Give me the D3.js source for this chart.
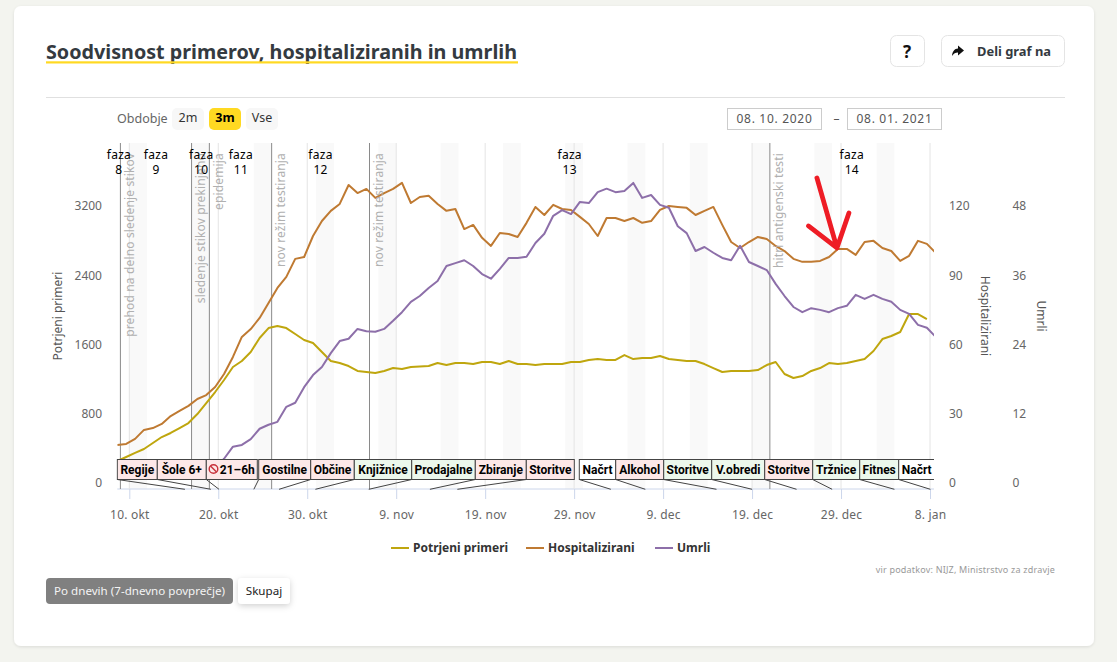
<!DOCTYPE html>
<html lang="sl">
<head>
<meta charset="utf-8">
<title>Soodvisnost primerov, hospitaliziranih in umrlih</title>
<script src="https://cdn.jsdelivr.net/npm/d3@7"></script>
<style>
html,body{margin:0;padding:0;background:#f3f4ef;overflow:hidden}
svg{display:block}
text{font-family:"Noto Sans",sans-serif}
</style>
</head>
<body>
<svg id="chart" width="1117" height="662"></svg>
<script>
// ---------- data ----------
const potrjeniPrimeri = [
254,300,347,393,462,531,578,635,693,797,
924,1051,1190,1340,1409,1513,1675,1790,1813,1790,
1721,1652,1617,1513,1409,1386,1351,1294,1282,1271,
1294,1328,1317,1340,1346,1351,1386,1363,1386,1386,
1374,1398,1398,1374,1409,1374,1374,1363,1374,1374,
1374,1398,1398,1421,1432,1421,1421,1478,1432,1444,
1444,1467,1432,1421,1409,1409,1374,1328,1282,1294,
1294,1294,1305,1363,1398,1259,1213,1236,1294,1328,
1386,1374,1386,1409,1432,1525,1663,1698,1744,1952,
1952,1894];
const hospitalizirani = [
16.5,16.9,19.1,23,23.8,25.6,29,31.2,33.4,36.4,
38.1,41.6,47.2,54.6,63.3,66.7,71.5,78,84.5,89.3,
97.1,97.9,107,113.5,117.9,120.9,129.1,125.6,127.4,123.5,
125.6,127.4,130,121.3,123.9,124.4,120.9,117.9,118.7,110,
111.8,106.2,102.7,108.3,107.9,106.6,112.7,119.6,116.1,120.5,
118.7,118.3,115.3,112.2,107,114.8,114.8,113.5,114.8,112.7,
113.5,118.3,120,119.6,119.2,116.1,117.9,119.6,111.8,104.4,
101.8,104.4,106.6,105.7,102.7,100.5,97.1,95.8,95.8,96.2,
97.9,101.4,101.4,98.8,104.4,104.9,101.8,100.5,96.2,98.4,
104.9,103.6,99.7];
const umrli = [
1,1,1,1,1,1.5,1.5,1.5,2,2,
2,2.5,4.2,6.3,6.6,7.6,9.4,10.1,10.6,13.2,
13.9,16.6,18.7,20.1,22.5,24.6,25,26.7,26.3,26.2,
26.7,28.1,29.6,31.4,32.4,33.8,35,37.6,38.1,38.6,
37.6,36.2,35.4,37.1,39,39,39.2,41.6,43.2,46.3,
47.3,46.6,48.7,48.5,50.4,51,50.4,50.6,52,49.4,
49.9,48.2,47.7,44.5,43.3,40.2,40.9,39.9,39,38.6,
41.1,38.3,37.6,36.9,34.5,32.4,30.5,29.6,30.3,30,
29.6,30.3,30.7,32.6,31.9,32.6,31.9,31.4,30,29.3,
27.4,26.9,25.3];
const seriesNames = ["Potrjeni primeri","Hospitalizirani","Umrli"];
const casesTicks = [0,800,1600,2400,3200];
const hospTicks = [0,30,60,90,120];
const deathTicks = [0,12,24,36,48];
const monthNames = ["jan","feb","mar","apr","maj","jun","jul","avg","sep","okt","nov","dec"];
const xTickDates = ["2020-10-10","2020-10-20","2020-10-30","2020-11-09","2020-11-19","2020-11-29","2020-12-09","2020-12-19","2020-12-29","2021-01-08"];
const weekendStarts = ["2020-10-10","2020-10-17","2020-10-24","2020-10-31","2020-11-07","2020-11-14","2020-11-21","2020-11-28","2020-12-05","2020-12-12","2020-12-19","2020-12-26","2021-01-02"];
const phaseNames = ["8","9","10","11","12","13","14"];
const phaseDates = ["2020-10-08T20:00","2020-10-13T00:00","2020-10-18T02:00","2020-10-22T13:00","2020-10-31T12:00","2020-11-28T12:00","2020-12-30T05:00"];
const eventDates = ["2020-10-09","2020-10-17","2020-10-19","2020-10-26","2020-11-06","2020-12-21"];
const eventLabels = ["prehod na delno sledenje stikov","sledenje stikov prekinjeno","epidemija","nov režim testiranja","nov režim testiranja","hitri antigenski testi"];
const flagNames = ["Regije","Šole 6+","21–6h","Gostilne","Občine","Knjižnice","Prodajalne","Zbiranje","Storitve","Načrt","Alkohol","Storitve","V.obredi","Storitve","Tržnice","Fitnes","Načrt"];
const flagKinds = ["red","red","red","red","red","green","green","red","red","none","red","green","green","red","green","green","none"];
const flagDates = ["2020-10-16T06:00","2020-10-19T04:00","2020-10-20T02:00","2020-10-24T00:00","2020-10-26T20:00","2020-10-30T22:00","2020-11-05T22:00","2020-11-12T19:00","2020-11-15T21:00","2020-12-03T03:00","2020-12-07T00:00","2020-12-15T00:00","2020-12-19T00:00","2020-12-24T00:00","2020-12-28T00:00","2021-01-04T00:00","2021-01-08T01:00"];

// ---------- layout & style ----------
const plot = {left:117.3,right:934,top:143,bottom:489};
const colors = ["#bfa60e","#bf7a32","#8d6fa9"];
const flagFill = {red:"#fde8e8",green:"#ecf8ec",none:"#ffffff"};
const flagWidths = [40,49,51,52,43.6,57.4,63.6,51,48,36.4,48,48,53,48,47,39,36];
const flagGaps =   [0,0,0,1.4,0,0,0,0,0,5,0,0,0,0,0,0,0];
const parse = s => new Date(s + (s.length>10 ? ":00Z" : "T00:00:00Z"));
const pointDate = i => new Date(Date.UTC(2020,9,8,15,36) + i*864e5);

const svg = d3.select("#chart");
const x = d3.scaleUtc().domain([parse("2020-10-10"),parse("2021-01-08")]).range([129.3,930]);
const yCases = d3.scaleLinear().domain([0,3200]).range([483,206]);
const yHosp = d3.scaleLinear().domain([0,120]).range([483,206]);
const yDeaths = d3.scaleLinear().domain([0,48]).range([483,206]);

// ---------- page furniture ----------
const defs = svg.append("defs");
const sh = defs.append("filter").attr("id","sh").attr("x","-30%").attr("y","-30%").attr("width","160%").attr("height","180%");
sh.append("feDropShadow").attr("dx",0).attr("dy",2).attr("stdDeviation",3).attr("flood-color","#000").attr("flood-opacity",.18);
const cs = defs.append("filter").attr("id","cs").attr("x","-2%").attr("y","-2%").attr("width","104%").attr("height","104%");
cs.append("feDropShadow").attr("dx",0).attr("dy",1).attr("stdDeviation",1.5).attr("flood-color","#000").attr("flood-opacity",.1);
defs.append("clipPath").attr("id","plotClip").append("rect")
  .attr("x",plot.left).attr("y",plot.top).attr("width",plot.right-plot.left).attr("height",plot.bottom-plot.top);

svg.append("rect").attr("x",14).attr("y",6).attr("width",1080).attr("height",640).attr("rx",7).attr("fill","#fff").attr("filter","url(#cs)");

svg.append("text").attr("x",46).attr("y",59).attr("font-size",20).attr("font-weight",700).attr("fill","#343a40")
  .attr("textLength",471).attr("lengthAdjust","spacingAndGlyphs").text("Soodvisnost primerov, hospitaliziranih in umrlih");
svg.append("rect").attr("x",46).attr("y",61.3).attr("width",472).attr("height",2.2).attr("fill","#ffd922");
svg.append("line").attr("x1",46).attr("x2",1065).attr("y1",97.5).attr("y2",97.5).attr("stroke","#e0e0e0");

// top-right buttons
svg.append("rect").attr("x",890.5).attr("y",35.5).attr("width",34).attr("height",31).attr("rx",6).attr("fill","#fff").attr("stroke","#e4e4e4");
svg.append("text").attr("x",907).attr("y",58).attr("text-anchor","middle").attr("font-size",17).attr("font-weight",700).attr("fill","#111").text("?");
svg.append("rect").attr("x",941.5).attr("y",35.5).attr("width",123).attr("height",31).attr("rx",6).attr("fill","#fff").attr("stroke","#e4e4e4");
svg.append("path").attr("d","M958 45.5 L964 50.5 L958 55.5 V52.5 C955.5 52.5 953.5 53.5 952 56 C952.3 51.5 954.5 48.7 958 48.5 Z").attr("fill","#111");
svg.append("text").attr("x",977).attr("y",56).attr("font-size",13).attr("font-weight",700).attr("fill","#343a40")
  .attr("textLength",74).attr("lengthAdjust","spacingAndGlyphs").text("Deli graf na");

// range selector
svg.append("text").attr("x",117).attr("y",123).attr("font-size",12.5).attr("fill","#666").text("Obdobje");
const ranges = [["2m",172],["3m",209],["Vse",246]];
ranges.forEach(([t,rx])=>{
  const on = t==="3m";
  svg.append("rect").attr("x",rx).attr("y",108).attr("width",32).attr("height",22).attr("rx",5).attr("fill",on?"#ffd922":"#f7f7f7");
  svg.append("text").attr("x",rx+16).attr("y",122).attr("text-anchor","middle").attr("font-size",12.5)
    .attr("font-weight",on?700:400).attr("fill",on?"#000":"#333").text(t);
});
[["08. 10. 2020",727.5],["08. 01. 2021",847.5]].forEach(([t,bx])=>{
  svg.append("rect").attr("x",bx).attr("y",108.5).attr("width",94).attr("height",21).attr("fill","#fff").attr("stroke","#ccc");
  svg.append("text").attr("x",bx+47).attr("y",123).attr("text-anchor","middle").attr("font-size",12).attr("letter-spacing",".7px").attr("fill","#555").text(t);
});
svg.append("text").attr("x",836.5).attr("y",123).attr("text-anchor","middle").attr("font-size",12).attr("fill","#555").text("–");

// ---------- weekend bands & grid ----------
const dayW = x(parse("2020-10-11"))-x(parse("2020-10-10"));
svg.append("g").selectAll("rect").data(weekendStarts).join("rect")
  .attr("x",d=>x(parse(d))).attr("y",plot.top).attr("width",2*dayW).attr("height",plot.bottom-plot.top).attr("fill","#f9f9f9");

const fmt = d => `${d.getUTCDate()}. ${monthNames[d.getUTCMonth()]}`;
const xAxis = d3.axisBottom(x).tickValues(xTickDates.map(parse)).tickFormat(fmt).tickSize(10).tickPadding(11);
const gx = svg.append("g").attr("transform",`translate(0,${plot.bottom})`).call(xAxis);
gx.select(".domain").remove();
gx.append("line").attr("x1",plot.left).attr("x2",plot.right).attr("stroke","#ccd6eb");
gx.selectAll(".tick line").attr("stroke","#ccd6eb");
gx.selectAll(".tick text").attr("font-size",12).attr("font-family",'"Noto Sans",sans-serif').attr("fill","#666").attr("letter-spacing",".2px");
svg.append("g").selectAll("line").data(xTickDates).join("line")
  .attr("x1",d=>x(parse(d))).attr("x2",d=>x(parse(d))).attr("y1",plot.top).attr("y2",plot.bottom).attr("stroke","#e4e4e4");
svg.append("g").selectAll("line").data(eventDates).join("line")
  .attr("x1",d=>x(parse(d))).attr("x2",d=>x(parse(d))).attr("y1",plot.top).attr("y2",plot.bottom).attr("stroke","#8a8a8a");

// y axes
function styleAxis(g){
  g.select(".domain").remove();
  g.selectAll(".tick line").remove();
  g.selectAll(".tick text").attr("font-size",12).attr("font-family",'"Noto Sans",sans-serif').attr("fill","#666");
}
const plain = d3.format("d");
svg.append("g").attr("transform","translate(102,0)").call(d3.axisLeft(yCases).tickValues(casesTicks).tickFormat(plain).tickSize(0).tickPadding(0)).call(styleAxis);
svg.append("g").attr("transform","translate(949,0)").call(d3.axisRight(yHosp).tickValues(hospTicks).tickFormat(plain).tickSize(0).tickPadding(0)).call(styleAxis);
svg.append("g").attr("transform","translate(1012.5,0)").call(d3.axisRight(yDeaths).tickValues(deathTicks).tickFormat(plain).tickSize(0).tickPadding(0)).call(styleAxis);
const axisTitle = (t,tx,ty,rot)=>svg.append("text").attr("transform",`translate(${tx},${ty}) rotate(${rot})`).attr("text-anchor","middle")
  .attr("font-size",12).attr("fill","#555").text(t);
axisTitle(seriesNames[0],62,316,-90);
axisTitle(seriesNames[1],981,316,90);
axisTitle(seriesNames[2],1037,316,90);

// ---------- series ----------
const lineGen = yS => d3.line().x((d,i)=>x(pointDate(i))).y(d=>yS(d));
const gLines = svg.append("g").attr("clip-path","url(#plotClip)");
[[potrjeniPrimeri,yCases],[hospitalizirani,yHosp],[umrli,yDeaths]].forEach(([vals,yS],k)=>{
  gLines.append("path").datum(vals).attr("d",lineGen(yS)).attr("fill","none")
    .attr("stroke",colors[k]).attr("stroke-width",2).attr("stroke-linejoin","round");
});

// ---------- event labels & phases ----------
svg.append("g").selectAll("text").data(eventLabels).join("text")
  .attr("transform",(d,i)=>`translate(${x(parse(eventDates[i]))+13.5},153) rotate(-90)`)
  .attr("text-anchor","end").attr("font-size",12).attr("letter-spacing",".15px").attr("fill","#b0b0b0").text(d=>d);
const gPh = svg.append("g").selectAll("g").data(phaseNames).join("g")
  .attr("transform",(d,i)=>`translate(${x(parse(phaseDates[i]))},0)`);
gPh.append("text").attr("y",159).attr("text-anchor","middle").attr("font-size",12).attr("letter-spacing",".3px").attr("fill","#000").text("faza");
gPh.append("text").attr("y",174).attr("text-anchor","middle").attr("font-size",12).attr("letter-spacing",".3px").attr("fill","#000").text(d=>d);

// ---------- flags ----------
let cursor = plot.left;
const flagLeft = flagWidths.map((w,i)=>{cursor += flagGaps[i]; const l = cursor; cursor += w; return l;});
const gFlags = svg.append("g").attr("clip-path","url(#plotClipFlags)");
defs.append("clipPath").attr("id","plotClipFlags").append("rect").attr("x",plot.left-1).attr("y",450).attr("width",plot.right-plot.left+1).attr("height",45);
const fl = gFlags.selectAll("g").data(flagNames).join("g");
fl.append("rect").attr("x",(d,i)=>flagLeft[i]).attr("y",459.5).attr("width",(d,i)=>flagWidths[i]+(i===16?6:0)).attr("height",20)
  .attr("fill",(d,i)=>flagFill[flagKinds[i]]).attr("stroke","#444").attr("stroke-width",1);
fl.append("line").attr("x1",(d,i)=>flagLeft[i]).attr("y1",479.5).attr("x2",(d,i)=>x(parse(flagDates[i]))).attr("y2",489.3).attr("stroke","#444");
fl.append("text").attr("x",(d,i)=>flagLeft[i]+flagWidths[i]/2+(d==="21–6h"?5.5:0)).attr("y",473.5).attr("text-anchor","middle")
  .style("font-family","Roboto,sans-serif").attr("font-size",12).attr("font-weight",700).attr("fill","#000").text(d=>d);
// no-entry icon of the curfew flag
const ic = {x:flagLeft[2]+7.2,y:469};
gFlags.append("circle").attr("cx",ic.x).attr("cy",ic.y).attr("r",4.3).attr("fill","none").attr("stroke","#c8323c").attr("stroke-width",1.4);
gFlags.append("line").attr("x1",ic.x-3).attr("y1",ic.y-3).attr("x2",ic.x+3).attr("y2",ic.y+3).attr("stroke","#c8323c").attr("stroke-width",1.4);

// ---------- red hand-drawn arrow ----------
const tip = [x(pointDate(81))-1,yHosp(hospitalizirani[81])-1];
svg.append("path").attr("d",`M${tip[0]-20} ${tip[1]-70} L${tip[0]} ${tip[1]} M${tip[0]-28.5} ${tip[1]-22} L${tip[0]} ${tip[1]} L${tip[0]+12} ${tip[1]-35}`)
  .attr("fill","none").attr("stroke","#ee1c25").attr("stroke-width",4.8).attr("stroke-linecap","round").attr("stroke-linejoin","round");

// ---------- legend ----------
const legendX = [[391,413],[526,548],[655,677]];
const lg = svg.append("g").selectAll("g").data(seriesNames).join("g");
lg.append("line").attr("x1",(d,i)=>legendX[i][0]).attr("x2",(d,i)=>legendX[i][0]+18).attr("y1",548).attr("y2",548).attr("stroke",(d,i)=>colors[i]).attr("stroke-width",2);
lg.append("text").attr("x",(d,i)=>legendX[i][1]).attr("y",552).attr("font-size",12).attr("font-weight",700).attr("fill","#333").text(d=>d);

// ---------- source & bottom buttons ----------
svg.append("text").attr("x",1055).attr("y",573).attr("text-anchor","end").attr("font-size",9).attr("letter-spacing",".2px").attr("fill","#999").text("vir podatkov: NIJZ, Ministrstvo za zdravje");
svg.append("rect").attr("x",46).attr("y",578).attr("width",187).attr("height",26).attr("rx",4).attr("fill","#808080");
svg.append("text").attr("x",139.5).attr("y",595).attr("text-anchor","middle").attr("font-size",11.6).attr("fill","#f4f4f4").text("Po dnevih (7-dnevno povprečje)");
svg.append("rect").attr("x",238).attr("y",578).attr("width",52).attr("height",26).attr("rx",4).attr("fill","#fff").attr("filter","url(#sh)");
svg.append("text").attr("x",264).attr("y",595).attr("text-anchor","middle").attr("font-size",11.6).attr("fill","#222").text("Skupaj");
</script>
</body>
</html>
